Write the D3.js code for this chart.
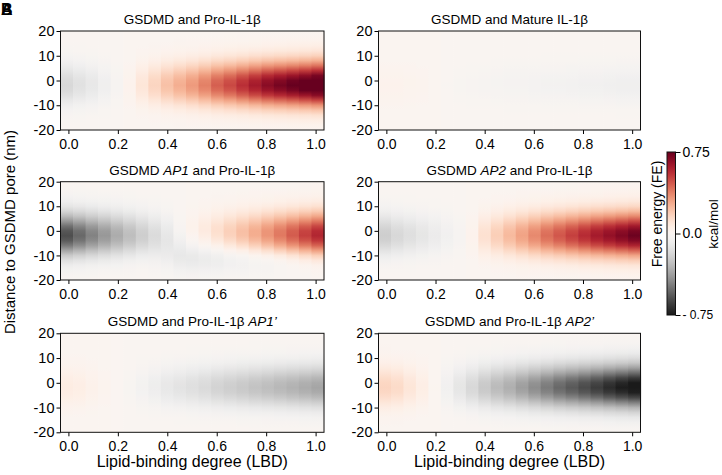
<!DOCTYPE html>
<html>
<head>
<meta charset="utf-8">
<script src="https://cdn.jsdelivr.net/npm/d3@7"></script>
<style>
  body { margin: 0; background: #fff; }
  svg text { font-family: Arial, "Liberation Sans", sans-serif; fill: #000; }
</style>
</head>
<body>
<div id="chart"></div>
<script>
// lipid-binding degree columns
const lbd = [0, 0.05, 0.1, 0.15, 0.2, 0.25, 0.3, 0.35, 0.4, 0.45, 0.5,
  0.55, 0.6, 0.65, 0.7, 0.75, 0.8, 0.85, 0.9, 0.95, 1.0];

// distance rows (nm), top to bottom
const dist = [20, 18, 16, 14, 12, 10, 8, 6, 4, 2, 0, -2, -4, -6, -8, -10,
  -12, -14, -16, -18, -20];

// vertical shape of the main well and of the lower tail
const coreProfile = [0.01, 0.02, 0.04, 0.07, 0.12, 0.2, 0.32, 0.48, 0.66, 0.84,
  0.96, 1.0, 0.94, 0.8, 0.6, 0.4, 0.25, 0.14, 0.08, 0.04, 0.02];
const lowProfile = [0, 0, 0, 0, 0, 0, 0, 0.01, 0.02, 0.06, 0.14, 0.28, 0.46,
  0.66, 0.86, 1.0, 0.95, 0.78, 0.55, 0.34, 0.2];

// peak free energy per column (kcal/mol)
const proIL = [-0.18, -0.14, -0.11, -0.07, -0.03, 0.03, 0.1, 0.16, 0.22, 0.27,
  0.32, 0.38, 0.45, 0.5, 0.56, 0.62, 0.68, 0.72, 0.76, 0.8, 0.85];
const matureIL = [0.03, 0.03, 0.025, 0.02, 0.005, -0.01, -0.02, -0.025, -0.03,
  -0.035, -0.04, -0.04, -0.045, -0.05, -0.05, -0.055, -0.06, -0.06, -0.065,
  -0.07, -0.07];
const ap1Pro = [-0.6, -0.53, -0.46, -0.4, -0.34, -0.28, -0.22, -0.16, -0.1,
  -0.02, 0.05, 0.1, 0.15, 0.2, 0.25, 0.3, 0.36, 0.42, 0.48, 0.54, 0.6];
const ap1ProTail = [0, 0, 0, 0, 0, 0, 0, -0.02, -0.05, -0.1, -0.12, -0.12,
  -0.12, -0.11, -0.11, -0.1, -0.1, -0.09, -0.08, -0.07, -0.06];
const ap2Pro = [-0.22, -0.18, -0.15, -0.12, -0.09, -0.06, -0.03, 0.03, 0.12,
  0.18, 0.24, 0.3, 0.36, 0.42, 0.47, 0.52, 0.57, 0.62, 0.66, 0.7, 0.74];
const proAP1 = [0.07, 0.06, 0.04, 0.02, 0.0, -0.02, -0.05, -0.08, -0.11, -0.13,
  -0.15, -0.17, -0.2, -0.22, -0.24, -0.26, -0.28, -0.3, -0.32, -0.34, -0.36];
const proAP2 = [0.16, 0.14, 0.1, 0.06, 0.01, -0.06, -0.12, -0.18, -0.24, -0.29,
  -0.33, -0.38, -0.43, -0.48, -0.53, -0.57, -0.61, -0.65, -0.7, -0.74, -0.78];
const zeroTail = lbd.map(() => 0);

const panels = [
  { title: [["GSDMD and Pro-IL-1β", false]], main: proIL, tail: zeroTail, row: 0, col: 0 },
  { title: [["GSDMD and Mature IL-1β", false]], main: matureIL, tail: zeroTail, row: 0, col: 1 },
  { title: [["GSDMD ", false], ["AP1", true], [" and Pro-IL-1β", false]], main: ap1Pro, tail: ap1ProTail, row: 1, col: 0 },
  { title: [["GSDMD ", false], ["AP2", true], [" and Pro-IL-1β", false]], main: ap2Pro, tail: zeroTail, row: 1, col: 1 },
  { title: [["GSDMD and Pro-IL-1β ", false], ["AP1’", true]], main: proAP1, tail: zeroTail, row: 2, col: 0 },
  { title: [["GSDMD and Pro-IL-1β ", false], ["AP2’", true]], main: proAP2, tail: zeroTail, row: 2, col: 1 },
];

const xTicks = [0, 0.2, 0.4, 0.6, 0.8, 1.0];
const yTicks = [-20, -10, 0, 10, 20];
const cbTicks = [0.75, 0.0, -0.75];

const W = 722, H = 475;
const colX = [[60.5, 324], [378.5, 640.5]];
const rowY = [[31, 130], [181.7, 280], [333.3, 432.3]];

const color = d3.scaleSequential(d3.interpolateRdGy).domain([0.75, -0.75]).clamp(true);

const svg = d3.select("#chart").append("svg")
  .attr("width", W).attr("height", H);
const defs = svg.append("defs");

panels.forEach((p, pi) => {
  const [x0, x1] = colX[p.col];
  const [y0, y1] = rowY[p.row];
  const x = d3.scaleLinear().domain([-0.032, 1.034]).range([x0, x1]);
  const band = d3.scaleBand().domain(lbd).range([x0, x1]);
  const y = d3.scaleLinear().domain([-20, 20]).range([y1, y0]);
  const g = svg.append("g");

  // one vertical gradient per LBD column
  lbd.forEach((v, i) => {
    const grad = defs.append("linearGradient")
      .attr("id", `g${pi}_${i}`)
      .attr("x1", 0).attr("x2", 0).attr("y1", 0).attr("y2", 1);
    grad.selectAll("stop")
      .data(dist)
      .join("stop")
      .attr("offset", (d) => (y(d) - y0) / (y1 - y0))
      .attr("stop-color", (d, j) => color(p.main[i] * coreProfile[j] + p.tail[i] * lowProfile[j]));
  });

  g.selectAll("rect.cell")
    .data(lbd)
    .join("rect")
    .attr("class", "cell")
    .attr("x", (d) => band(d))
    .attr("y", y0)
    .attr("width", band.bandwidth() + 0.6)
    .attr("height", y1 - y0)
    .attr("fill", (d, i) => `url(#g${pi}_${i})`);

  // axes
  const ax = g.append("g")
    .attr("transform", `translate(0,${y1})`)
    .call(d3.axisBottom(x).tickValues(xTicks).tickFormat(d3.format(".1f")).tickSize(4).tickPadding(5));
  ax.selectAll("text").attr("font-size", 14);
  const ay = g.append("g")
    .attr("transform", `translate(${x0},0)`)
    .call(d3.axisLeft(y).tickValues(yTicks).tickFormat((d) => String(d)).tickSize(4).tickPadding(2));
  ay.selectAll("text").attr("font-size", 14.5);
  g.selectAll(".domain").remove();
  g.selectAll(".tick line").attr("stroke", "#000");

  g.append("rect")
    .attr("x", x0).attr("y", y0)
    .attr("width", x1 - x0).attr("height", y1 - y0)
    .attr("fill", "none").attr("stroke", "#111").attr("stroke-width", 1);

  const t = g.append("text")
    .attr("x", (x0 + x1) / 2).attr("y", y0 - 7)
    .attr("text-anchor", "middle").attr("font-size", 13.5);
  p.title.forEach(([s, it]) => {
    t.append("tspan").attr("font-style", it ? "italic" : "normal").text(s);
  });

  if (p.row === 2) {
    g.append("text")
      .attr("x", (x0 + x1) / 2).attr("y", 467)
      .attr("text-anchor", "middle").attr("font-size", 16)
      .text("Lipid-binding degree (LBD)");
  }
});

// y axis label
svg.append("text")
  .attr("transform", "translate(15,232) rotate(-90)")
  .attr("text-anchor", "middle").attr("font-size", 15)
  .text("Distance to GSDMD pore (nm)");

// colour bar
const cb = { x: 667, y0: 152, y1: 315, w: 8.5 };
const cbScale = d3.scaleLinear().domain([-0.75, 0.75]).range([cb.y1, cb.y0]);
const cbGrad = defs.append("linearGradient").attr("id", "cbgrad")
  .attr("x1", 0).attr("x2", 0).attr("y1", 1).attr("y2", 0);
cbGrad.selectAll("stop")
  .data(d3.ticks(-0.75, 0.75, 30))
  .join("stop")
  .attr("offset", (d) => (d + 0.75) / 1.5)
  .attr("stop-color", (d) => color(d));
svg.append("rect")
  .attr("x", cb.x).attr("y", cb.y0).attr("width", cb.w).attr("height", cb.y1 - cb.y0)
  .attr("fill", "url(#cbgrad)").attr("stroke", "#111").attr("stroke-width", 1);
const cbAxis = svg.append("g")
  .attr("transform", `translate(${cb.x + cb.w},0)`)
  .call(d3.axisRight(cbScale).tickValues(cbTicks)
    .tickFormat((d) => (d < 0 ? "- 0.75" : d === 0 ? "0.0" : "0.75"))
    .tickSize(5).tickPadding(2));
cbAxis.select(".domain").remove();
cbAxis.selectAll(".tick line").attr("stroke", "#000");
cbAxis.selectAll("text").attr("font-size", (d) => (d < 0 ? 12 : 14));

svg.append("text")
  .attr("transform", "translate(662,214) rotate(-90)")
  .attr("text-anchor", "middle").attr("font-size", 14)
  .text("Free energy (FE)");
svg.append("text")
  .attr("transform", "translate(718,224) rotate(-90)")
  .attr("text-anchor", "middle").attr("font-size", 13.5)
  .text("kcal/mol");

// overlapping panel letters in the corner
svg.append("text").attr("x", 1).attr("y", 15).attr("font-size", 16).attr("font-weight", "bold").text("A");
svg.append("text").attr("x", 1).attr("y", 15).attr("font-size", 16).attr("font-weight", "bold").text("B");
</script>
</body>
</html>
